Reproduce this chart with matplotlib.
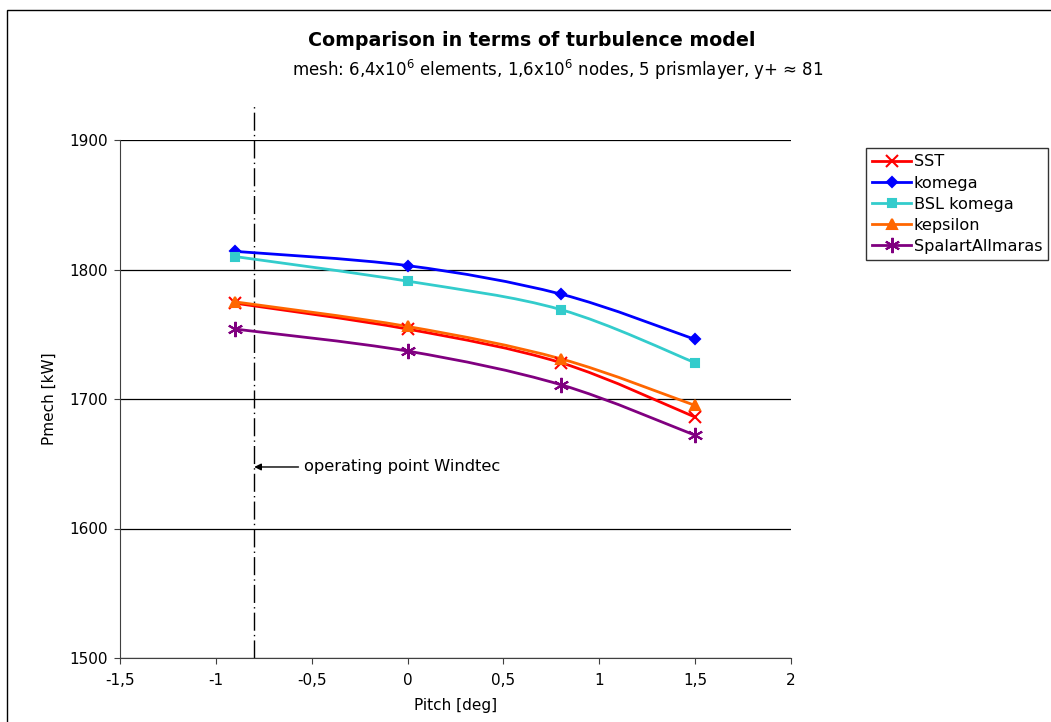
import numpy as np
import matplotlib
matplotlib.use('Agg')
import matplotlib.pyplot as plt
from matplotlib.path import Path
from matplotlib.patches import PathPatch, Rectangle
from matplotlib.lines import Line2D
from matplotlib.ticker import FuncFormatter, MultipleLocator

# pitch angles [deg]
pitch = [-0.9, 0.0, 0.8, 1.5]

# mechanical power [kW] per turbulence model
sst = [1774, 1754, 1728, 1686]
komega = [1814, 1803, 1781, 1746]
bsl_komega = [1810, 1791, 1769, 1728]
kepsilon = [1775, 1756, 1731, 1695]
spalart = [1754, 1737, 1711, 1672]

labels = ['SST', 'komega', 'BSL komega', 'kepsilon', 'SpalartAllmaras']
colors = ['#FF0000', '#0000FF', '#33CCCC', '#FF6600', '#800080']
markers = ['x', 'D', 's', '^', (6, 2, 0)]
msizes = [8, 5, 6, 7, 11]

op_pitch = -0.8          # operating point Windtec
op_arrow_y = 1647.5


def smooth_path(x, y):
    # excel-like smoothed line: cubic bezier through the points
    x = np.asarray(x, float)
    y = np.asarray(y, float)
    px = np.concatenate([[x[0]], x, [x[-1]]])
    py = np.concatenate([[y[0]], y, [y[-1]]])
    verts = [(x[0], y[0])]
    codes = [Path.MOVETO]
    for i in range(1, len(px) - 2):
        c1 = (px[i] + (px[i + 1] - px[i - 1]) / 6, py[i] + (py[i + 1] - py[i - 1]) / 6)
        c2 = (px[i + 1] - (px[i + 2] - px[i]) / 6, py[i + 1] - (py[i + 2] - py[i]) / 6)
        verts += [c1, c2, (px[i + 1], py[i + 1])]
        codes += [Path.CURVE4] * 3
    return Path(verts, codes)


fig = plt.figure(figsize=(10.51, 7.22), dpi=100)
ax = fig.add_axes([120 / 1051, 1 - 658 / 722, 671 / 1051, 518 / 722])

series = [sst, komega, bsl_komega, kepsilon, spalart]
handles = []
for vals, lab, c, m, ms in zip(series, labels, colors, markers, msizes):
    ax.add_patch(PathPatch(smooth_path(pitch, vals), facecolor='none',
                           edgecolor=c, lw=2.0, zorder=3))
    ax.plot(pitch, vals, linestyle='none', marker=m, ms=ms, color=c,
            mec=c, mew=1.5, zorder=4)
    handles.append(Line2D([], [], color=c, lw=2.0, marker=m, ms=ms, mew=1.5, label=lab))

ax.set_xlim(-1.5, 2)
ax.set_ylim(1500, 1900)
ax.xaxis.set_major_locator(MultipleLocator(0.5))
ax.yaxis.set_major_locator(MultipleLocator(100))
ax.xaxis.set_major_formatter(FuncFormatter(lambda v, p: f'{v:g}'.replace('.', ',')))
ax.grid(axis='y', color='black', lw=0.9, zorder=1)
ax.set_axisbelow(True)
for s in ['top', 'right']:
    ax.spines[s].set_visible(False)
for s in ['left', 'bottom']:
    ax.spines[s].set_color('#404040')
ax.tick_params(direction='out', length=4, labelsize=11, color='#404040')
ax.tick_params(axis='x', pad=7)
ax.tick_params(axis='y', pad=5)

ax.set_xlabel('Pitch [deg]', fontsize=11, labelpad=7)
ax.set_ylabel('Pmech [kW]', fontsize=11, labelpad=9)

# operating point line + note
ax.axvline(op_pitch, ymin=0, ymax=1.071, color='black', lw=1.0,
           linestyle=(0, (13, 3, 1, 3)), clip_on=False, zorder=2)
ax.annotate('operating point Windtec', xy=(op_pitch, op_arrow_y),
            xytext=(-0.54, op_arrow_y), va='center', ha='left', fontsize=11.7,
            arrowprops=dict(arrowstyle='-|>', color='black', lw=1.0,
                            mutation_scale=10, shrinkA=2, shrinkB=0))

fig.text(532 / 1051, 1 - 40 / 722, 'Comparison in terms of turbulence model',
         ha='center', va='center', fontsize=13.7, fontweight='bold')
fig.text(558 / 1051, 1 - 70 / 722,
         'mesh: 6,4x10$^6$ elements, 1,6x10$^6$ nodes, 5 prismlayer, y+ \u2248 81',
         ha='center', va='center', fontsize=12)

leg = fig.legend(handles=handles, loc='upper left',
                 bbox_to_anchor=(866 / 1051, 1 - 148 / 722), fontsize=11.6,
                 frameon=True, fancybox=False, edgecolor='black',
                 handlelength=2.4, handletextpad=0.15, labelspacing=0.38,
                 borderpad=0.4, borderaxespad=0)
leg.get_frame().set_linewidth(1.0)

fig.patches.append(Rectangle((7 / 1051, -0.1), 1.2, 1.1 - 10 / 722,
                             transform=fig.transFigure, fill=False,
                             edgecolor='black', lw=1.0))

fig.savefig('out.png', dpi=100)
